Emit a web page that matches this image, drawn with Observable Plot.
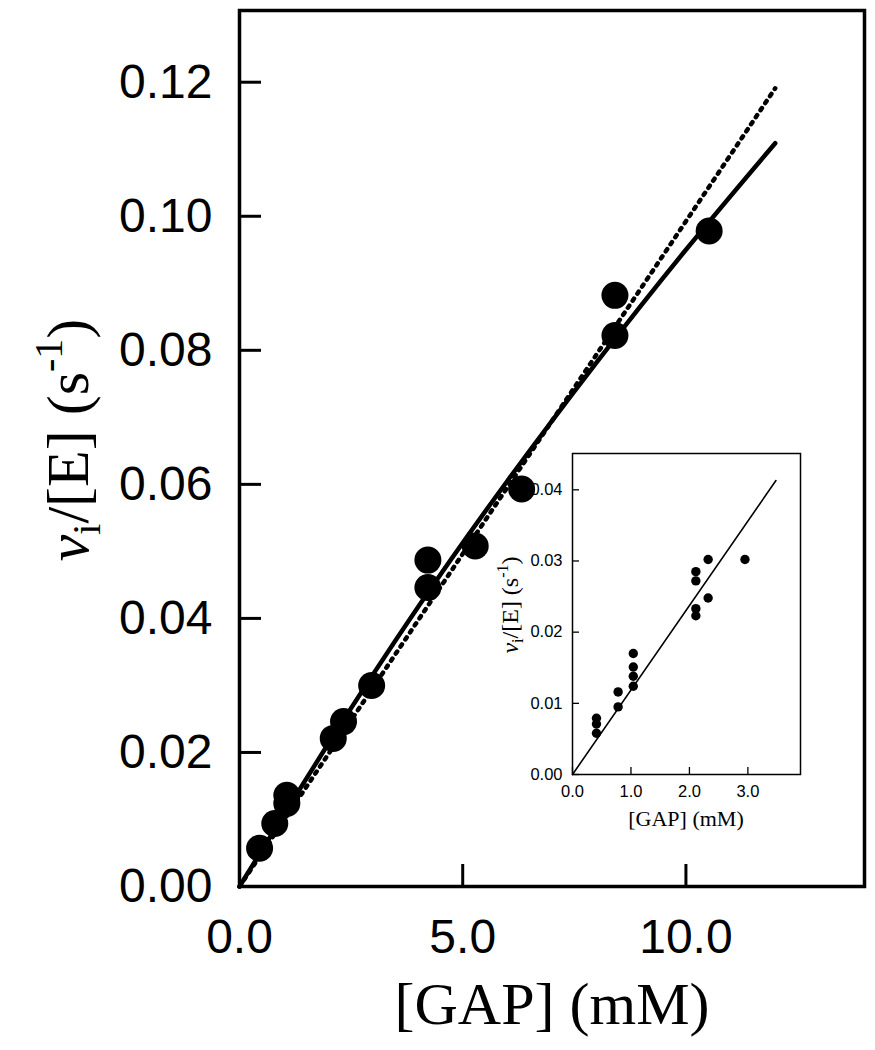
<!DOCTYPE html>
<html>
<head>
<meta charset="utf-8">
<script src="https://cdn.jsdelivr.net/npm/d3@7"></script>
<script src="https://cdn.jsdelivr.net/npm/@observablehq/plot@0.6"></script>
<style>
  html, body { margin: 0; padding: 0; background: white; }
  #wrap { position: relative; width: 875px; height: 1050px; }
  #wrap svg { position: absolute; }
</style>
</head>
<body>
<div id="wrap"></div>
<script>
// ---- Main panel data ----
const mainX = [0.45, 0.79, 1.06, 1.06, 2.10, 2.33, 2.96, 4.22, 4.22, 5.28, 6.32, 8.41, 8.41, 10.52];
const mainY = [0.0057, 0.0094, 0.0136, 0.0124, 0.0221, 0.0246, 0.0300, 0.0487, 0.0446, 0.0508, 0.0593, 0.0882, 0.0822, 0.0978];
// solid fitted curve
const solidX = [0, 2, 4, 6, 8, 10, 12];
const solidY = [0, 0.0214, 0.0417, 0.0605, 0.0782, 0.0950, 0.1109];
// dotted straight line
const dottedX = [0, 12];
const dottedY = [0, 0.1191];
const mainXTicks = [0, 5, 10];
const mainYTicks = [0, 0.02, 0.04, 0.06, 0.08, 0.10, 0.12];

// ---- Inset data ----
const insetX = [0.41, 0.41, 0.41, 0.78, 0.78, 1.04, 1.04, 1.04, 1.04, 2.11, 2.11, 2.11, 2.11, 2.32, 2.32, 2.95];
const insetY = [0.0079, 0.0071, 0.0058, 0.0116, 0.0095, 0.0170, 0.0151, 0.0138, 0.0124, 0.0285, 0.0272, 0.0233, 0.0223, 0.0302, 0.0248, 0.0302];
const insetLineX = [0, 3.48];
const insetLineY = [0, 0.0413];
const insetXTicks = [0, 1, 2, 3];
const insetYTicks = [0, 0.01, 0.02, 0.03, 0.04];

const zip = (xs, ys) => xs.map((x, i) => ({x, y: ys[i]}));

const W = 875, H = 1050;
const mL = 239, mR = 11, mT = 10, mB = 164;
const pw = W - mL - mR, ph = H - mT - mB;

const main = Plot.plot({
  width: W, height: H,
  marginLeft: mL, marginRight: mR, marginTop: mT, marginBottom: mB,
  style: {background: "transparent", fontFamily: "'Liberation Sans', Arial, sans-serif", color: "black", overflow: "visible"},
  x: {domain: [0, 14]},
  y: {domain: [0, 0.1307]},
  marks: [
    Plot.line(zip(dottedX, dottedY), {x: "x", y: "y", stroke: "black", strokeWidth: 4.5, strokeDasharray: "2.5,6", strokeLinecap: "round"}),
    Plot.line(zip(solidX, solidY), {x: "x", y: "y", stroke: "black", strokeWidth: 4.5, curve: "natural", strokeLinecap: "round"}),
    Plot.dot(zip(mainX, mainY), {x: "x", y: "y", r: 13.5, fill: "black"}),
    Plot.tickY(mainYTicks, {y: d => d, stroke: "black", strokeWidth: 3, insetRight: pw - 22}),
    Plot.tickX(mainXTicks, {x: d => d, stroke: "black", strokeWidth: 3, insetTop: ph - 22}),
    Plot.axisY(mainYTicks, {tickSize: 0, tickPadding: 27, fontSize: 48, tickFormat: d3.format(".2f"), label: null}),
    Plot.axisX(mainXTicks, {tickSize: 0, tickPadding: 32, fontSize: 48, tickFormat: d3.format(".1f"), label: null}),
    Plot.frame({stroke: "black", strokeWidth: 3.5})
  ]
});
main.style.left = "0px"; main.style.top = "0px"; main.style.zIndex = 1;

// main axis titles with sub/superscripts
const ms = d3.select(main);
const yl = ms.append("text")
  .attr("transform", "translate(88,440) rotate(-90)")
  .attr("text-anchor", "middle")
  .attr("font-family", "'Liberation Serif', 'Times New Roman', serif")
  .attr("font-size", 60).attr("fill", "black");
yl.append("tspan").attr("font-style", "italic").text("v");
yl.append("tspan").attr("font-size", 40).attr("dy", 12).text("i");
yl.append("tspan").attr("dy", -12).text("/[E] (s");
yl.append("tspan").attr("font-size", 40).attr("dy", -26).text("-1");
yl.append("tspan").attr("dy", 26).text(")");
ms.append("text")
  .attr("x", 552).attr("y", 1024)
  .attr("text-anchor", "middle")
  .attr("font-family", "'Liberation Serif', 'Times New Roman', serif")
  .attr("font-size", 60).attr("fill", "black")
  .text("[GAP] (mM)");

// ---- Inset ----
const iW = 320, iH = 400, iL = 82, iR = 10, iT = 13, iB = 66;
const ipw = iW - iL - iR, iph = iH - iT - iB;
const inset = Plot.plot({
  width: iW, height: iH,
  marginLeft: iL, marginRight: iR, marginTop: iT, marginBottom: iB,
  style: {background: "white", fontFamily: "'Liberation Sans', Arial, sans-serif", color: "black", overflow: "visible"},
  x: {domain: [0, 3.9]},
  y: {domain: [0, 0.0451]},
  marks: [
    Plot.line(zip(insetLineX, insetLineY), {x: "x", y: "y", stroke: "black", strokeWidth: 1.6}),
    Plot.dot(zip(insetX, insetY), {x: "x", y: "y", r: 4.7, fill: "black"}),
    Plot.tickY(insetYTicks, {y: d => d, stroke: "black", strokeWidth: 1.3, insetRight: ipw - 7}),
    Plot.tickX(insetXTicks, {x: d => d, stroke: "black", strokeWidth: 1.3, insetTop: iph - 7}),
    Plot.axisY(insetYTicks, {tickSize: 0, tickPadding: 10, fontSize: 16.5, tickFormat: d3.format(".2f"), label: null}),
    Plot.axisX(insetXTicks, {tickSize: 0, tickPadding: 11, fontSize: 16.5, tickFormat: d3.format(".1f"), label: null}),
    Plot.frame({stroke: "black", strokeWidth: 1.5})
  ]
});
inset.style.left = "490px"; inset.style.top = "440px"; inset.style.zIndex = 0;
const is = d3.select(inset);
const iyl = is.append("text")
  .attr("transform", "translate(28,165) rotate(-90)")
  .attr("text-anchor", "middle")
  .attr("font-family", "'Liberation Serif', 'Times New Roman', serif")
  .attr("font-size", 24).attr("fill", "black");
iyl.append("tspan").attr("font-style", "italic").text("v");
iyl.append("tspan").attr("font-size", 16).attr("dy", 5).text("i");
iyl.append("tspan").attr("dy", -5).text("/[E] (s");
iyl.append("tspan").attr("font-size", 16).attr("dy", -10).text("-1");
iyl.append("tspan").attr("dy", 10).text(")");
is.append("text")
  .attr("x", 196).attr("y", 386)
  .attr("text-anchor", "middle")
  .attr("font-family", "'Liberation Serif', 'Times New Roman', serif")
  .attr("font-size", 22).attr("fill", "black")
  .text("[GAP] (mM)");

const wrap = document.getElementById("wrap");
wrap.appendChild(inset);
wrap.appendChild(main);
</script>
</body>
</html>
